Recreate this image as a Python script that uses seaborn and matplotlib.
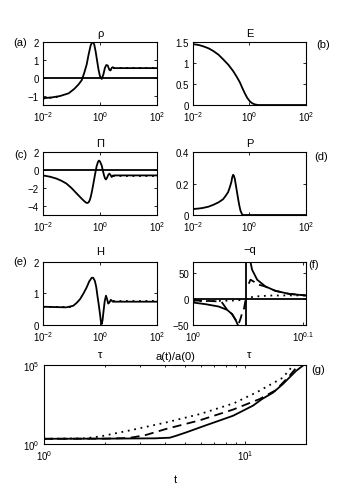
import numpy as np
import matplotlib
matplotlib.use("Agg")
import matplotlib.pyplot as plt
import seaborn as sns

# (a) rho
rho_x = [0.01, 0.02, 0.0398, 0.0794, 0.126, 0.178, 0.229, 0.282, 0.341, 0.398, 0.468, 0.525,
         0.575, 0.631, 0.708, 0.794, 0.891, 1.0, 1.148, 1.318, 1.479, 1.660, 1.862, 2.138,
         2.344, 2.570, 2.818, 3.162, 10, 100]
rho_y = [-1.12, -1.08, -1.0, -0.85, -0.6, -0.35, -0.12, 0.3, 0.75, 1.3, 1.8, 1.98,
         2.0, 1.85, 1.45, 0.95, 0.45, 0.1, -0.05, 0.2, 0.55, 0.72, 0.7, 0.45,
         0.42, 0.56, 0.6, 0.55, 0.55, 0.55]
rho_asym_left_x = [0.01, 0.02, 0.035]
rho_asym_left_y = [-1.14, -1.09, -1.04]
rho_asym_right_x = [2.8, 100]
rho_asym_right_y = [0.56, 0.56]

# (b) E
e_x = [0.01, 0.0158, 0.0226, 0.0355, 0.0513, 0.0794, 0.116, 0.178, 0.263, 0.355, 0.457,
       0.562, 0.682, 0.832, 1.023, 1.259, 1.549, 1.995, 100]
e_y = [1.45, 1.43, 1.40, 1.35, 1.29, 1.20, 1.09, 0.96, 0.81, 0.67, 0.54,
       0.40, 0.28, 0.17, 0.09, 0.04, 0.015, 0.0, 0.0]

# (c) Pi
pi_x = [0.01, 0.0178, 0.0295, 0.0447, 0.0661, 0.1, 0.151, 0.2, 0.257, 0.316, 0.355, 0.398,
        0.437, 0.468, 0.513, 0.575, 0.661, 0.759, 0.851, 0.923, 1.0, 1.148, 1.259, 1.380,
        1.514, 1.622, 1.778, 1.950, 2.138, 2.344, 2.570, 2.818, 3.162, 10, 100]
pi_y = [-0.6, -0.75, -0.95, -1.2, -1.5, -2.0, -2.6, -3.0, -3.35, -3.6, -3.67, -3.6,
        -3.35, -3.05, -2.5, -1.67, -0.6, 0.4, 0.9, 1.05, 0.95, 0.5, -0.05, -0.58,
        -0.95, -1.05, -0.85, -0.55, -0.4, -0.55, -0.78, -0.62, -0.6, -0.6, -0.6]
pi_asym_x = [2.8, 100]
pi_asym_y = [-0.62, -0.62]

# (d) P
p_x = [0.01, 0.0158, 0.0226, 0.0355, 0.0513, 0.0794, 0.116, 0.141, 0.175, 0.2, 0.229,
       0.245, 0.263, 0.279, 0.302, 0.347, 0.398, 0.437, 0.479, 0.562, 100]
p_y = [0.038, 0.041, 0.045, 0.053, 0.064, 0.08, 0.10, 0.12, 0.145, 0.175, 0.21,
       0.24, 0.255, 0.25, 0.23, 0.165, 0.10, 0.06, 0.028, 0.0, 0.0]

# (e) H
h_x = [0.01, 0.0251, 0.0661, 0.115, 0.151, 0.2, 0.263, 0.339, 0.417, 0.513, 0.575, 0.661,
       0.741, 0.813, 0.902, 1.0, 1.072, 1.148, 1.230, 1.318, 1.462, 1.622, 1.778, 1.950,
       2.163, 2.399, 2.818, 3.162, 10, 100]
h_y = [0.58, 0.57, 0.56, 0.61, 0.7, 0.82, 1.0, 1.19, 1.38, 1.5, 1.5, 1.4,
       1.2, 0.93, 0.65, 0.35, 0.12, 0.03, 0.15, 0.4, 0.75, 0.93, 0.82, 0.68,
       0.72, 0.8, 0.74, 0.74, 0.74, 0.74]
h_asym_left_x = [0.01, 0.1]
h_asym_left_y = [0.575, 0.575]
h_asym_right_x = [2.8, 100]
h_asym_right_y = [0.75, 0.75]

# (f) -q
q_left_x = [1.0, 1.0268, 1.0558, 1.0745, 1.0856, 1.0935, 1.0988, 1.1010]
q_left_y = [-6.5, -9.7, -14.3, -20.8, -29, -40, -50, -65]
q_right_x = [1.1262, 1.1282, 1.1321, 1.1442, 1.1641, 1.1888, 1.2225, 1.2677]
q_right_y = [85, 72, 57, 37.7, 24.7, 16.2, 10.4, 7.1]
q_pole = 1.1173
q_dash_left_x = [1.0, 1.0233, 1.0471, 1.0617, 1.0745, 1.0856, 1.0935, 1.1005, 1.1048,
                 1.1086, 1.1132, 1.1166]
q_dash_left_y = [-2.6, -3, -4, -5, -20.8, -29, -40, -48, -38, -27, -17.5, -1.3]
q_dash_right_x = [1.1242, 1.1282, 1.1361, 1.1429, 1.1614, 1.1888, 1.2225, 1.2677]
q_dash_right_y = [30, 37.7, 34, 29, 25.2, 16.2, 10.4, 7.1]
q_dot_x = [1.0, 1.0471, 1.0965, 1.1173, 1.1350, 1.1749, 1.2677]
q_dot_y = [-4, -3.5, -2.5, 0, 5, 7, 7.5]

# (g) a(t)/a(0)
t_solid = [1, 1.995, 3.548, 4.217, 4.550, 5.093, 6.412, 7.568, 8.690, 10.91, 12.11,
           13.71, 15.31, 17.86, 19.95]
a_solid = [2.14, 2.19, 2.29, 2.51, 3.39, 5.50, 15.8, 33.1, 61.7, 269, 708,
           1778, 6026, 42660, 125900]
t_dash = [1, 1.995, 2.630, 3.162, 4.055, 5.929, 8.690, 11.78, 14.13, 16.52, 18.24, 19.50]
a_dash = [2.14, 2.19, 2.40, 3.55, 9.12, 31.6, 151, 708, 2512, 19950, 91200, 199500]
t_dot = [1, 1.585, 1.905, 2.754, 4.055, 5.957, 8.770, 11.48, 15.31, 17.22, 18.62]
a_dot = [2.14, 2.29, 3.02, 7.94, 23.4, 79.4, 380, 1995, 15490, 91200, 251200]

sns.set_style("ticks")
plt.rcParams["font.family"] = ["Liberation Sans", "DejaVu Sans"]
plt.rcParams["mathtext.fontset"] = "custom"
plt.rcParams["mathtext.rm"] = "Liberation Sans"
plt.rcParams["mathtext.it"] = "Liberation Sans:italic"
plt.rcParams["axes.linewidth"] = 0.8
plt.rcParams["axes.edgecolor"] = "black"
plt.rcParams["text.color"] = "black"
plt.rcParams["axes.labelcolor"] = "black"
plt.rcParams["axes.titlecolor"] = "black"

FS = 7
LW = 1.3

fig = plt.figure(figsize=(3.39, 5.02), dpi=100)


def curve(ax, x, y, style="solid"):
    sns.lineplot(x=x, y=y, ax=ax, color="black", linewidth=LW, sort=False, estimator=None)
    ln = ax.lines[-1]
    if style == "dashed":
        ln.set_dashes([5, 3])
    elif style == "dotted":
        ln.set_dashes([1, 2.6])
        ln.set_dash_capstyle("butt")


def setup(ax, ylim, yticks, ylabels):
    ax.set_xscale("log")
    ax.set_xlim(0.01, 100)
    ax.set_xticks([0.01, 1, 100])
    ax.set_xticklabels([r"$10^{-2}$", r"$10^{0}$", r"$10^{2}$"])
    ax.xaxis.set_minor_locator(matplotlib.ticker.NullLocator())
    ax.set_ylim(*ylim)
    ax.set_yticks(yticks)
    ax.set_yticklabels(ylabels)
    ax.tick_params(direction="in", top=True, right=True, length=2.5, width=0.6,
                   labelsize=FS, pad=3, colors="black")
    ax.set_xlabel("")
    ax.set_ylabel("")


rows = [0.7888, 0.5697, 0.3506]
L1, L2, W1, W2, HH = 0.1268, 0.5693, 0.3363, 0.3333, 0.1255

ax_a = fig.add_axes([L1, rows[0], W1, HH])
ax_b = fig.add_axes([L2, rows[0], W2, HH])
ax_c = fig.add_axes([L1, rows[1], W1, HH])
ax_d = fig.add_axes([L2, rows[1], W2, HH])
ax_e = fig.add_axes([L1, rows[2], W1, HH])
ax_f = fig.add_axes([L2, rows[2], W2, HH])
ax_g = fig.add_axes([0.1298, 0.1135, 0.7729, 0.1574])

# (a)
ax_a.axhline(0, color="black", lw=LW)
curve(ax_a, rho_asym_left_x, rho_asym_left_y, "dotted")
curve(ax_a, rho_asym_right_x, rho_asym_right_y, "dotted")
curve(ax_a, rho_x, rho_y)
setup(ax_a, (-1.5, 2), [-1, 0, 1, 2], ["\u22121", "0", "1", "2"])
ax_a.set_title("\u03c1", fontsize=FS + 1, pad=4)

# (b)
curve(ax_b, e_x, e_y)
setup(ax_b, (0, 1.5), [0, 0.5, 1, 1.5], ["0", "0.5", "1", "1.5"])
ax_b.set_title("E", fontsize=FS + 1, pad=4)

# (c)
ax_c.axhline(0, color="black", lw=LW)
curve(ax_c, pi_asym_x, pi_asym_y, "dotted")
curve(ax_c, pi_x, pi_y)
setup(ax_c, (-5, 2), [-4, -2, 0, 2], ["\u22124", "\u22122", "0", "2"])
ax_c.set_title("\u03a0", fontsize=FS + 1, pad=4)

# (d)
curve(ax_d, p_x, p_y)
setup(ax_d, (0, 0.4), [0, 0.2, 0.4], ["0", "0.2", "0.4"])
ax_d.set_title("P", fontsize=FS + 1, pad=4)

# (e)
curve(ax_e, h_asym_left_x, h_asym_left_y, "dotted")
curve(ax_e, h_asym_right_x, h_asym_right_y, "dotted")
curve(ax_e, h_x, h_y)
setup(ax_e, (0, 2), [0, 1, 2], ["0", "1", "2"])
ax_e.set_title("H", fontsize=FS + 1, pad=6)
ax_e.set_xlabel("\u03c4", fontsize=FS + 1, labelpad=4)

# (f)
ax_f.axhline(0, color="black", lw=LW)
ax_f.axvline(q_pole, color="black", lw=LW)
curve(ax_f, q_dot_x, q_dot_y, "dotted")
curve(ax_f, q_dash_left_x, q_dash_left_y, "dashed")
curve(ax_f, q_dash_right_x, q_dash_right_y, "dashed")
curve(ax_f, q_left_x, q_left_y)
curve(ax_f, q_right_x, q_right_y)
ax_f.set_xscale("log")
ax_f.set_xlim(1, 10 ** 0.103)
ax_f.set_xticks([1, 10 ** 0.1])
ax_f.set_xticklabels([r"$10^{0}$", r"$10^{0.1}$"])
ax_f.xaxis.set_minor_locator(matplotlib.ticker.NullLocator())
ax_f.set_ylim(-50, 72)
ax_f.set_yticks([-50, 0, 50])
ax_f.set_yticklabels(["\u221250", "0", "50"])
ax_f.tick_params(direction="in", top=True, right=True, length=2.5, width=0.6,
                 labelsize=FS, pad=3, colors="black")
ax_f.set_ylabel("")
ax_f.set_title("\u2212q", fontsize=FS + 1, pad=7)
ax_f.set_xlabel("\u03c4", fontsize=FS + 1, labelpad=4)

# (g)
curve(ax_g, t_dot, a_dot, "dotted")
curve(ax_g, t_dash, a_dash, "dashed")
curve(ax_g, t_solid, a_solid)
ax_g.set_xscale("log")
ax_g.set_yscale("log")
ax_g.set_xlim(1, 20)
ax_g.set_ylim(1, 1e5)
ax_g.set_xticks([1, 10])
ax_g.set_xticklabels([r"$10^{0}$", r"$10^{1}$"])
ax_g.xaxis.set_minor_locator(matplotlib.ticker.FixedLocator(
    [2, 3, 4, 5, 6, 7, 8, 9, 20]))
ax_g.xaxis.set_minor_formatter(matplotlib.ticker.NullFormatter())
ax_g.set_yticks([1, 1e5])
ax_g.set_yticklabels([r"$10^{0}$", r"$10^{5}$"])
ax_g.yaxis.set_minor_locator(matplotlib.ticker.NullLocator())
ax_g.tick_params(which="both", direction="in", top=True, right=True, width=0.6,
                 labelsize=FS, pad=3, colors="black")
ax_g.tick_params(which="major", length=2.5)
ax_g.tick_params(which="minor", length=1.5)
ax_g.set_title("a(t)/a(0)", fontsize=FS + 1, pad=4)
ax_g.set_xlabel("t", fontsize=FS + 1, labelpad=9)
ax_g.set_ylabel("")

# panel letters
for txt, x, y in [("(a)", 0.060, 0.914), ("(b)", 0.953, 0.910),
                  ("(c)", 0.060, 0.691), ("(d)", 0.947, 0.687),
                  ("(e)", 0.060, 0.478), ("(f)", 0.926, 0.472),
                  ("(g)", 0.938, 0.263)]:
    fig.text(x, y, txt, fontsize=FS + 1, ha="center", va="center")

fig.savefig("out.png", dpi=100)
